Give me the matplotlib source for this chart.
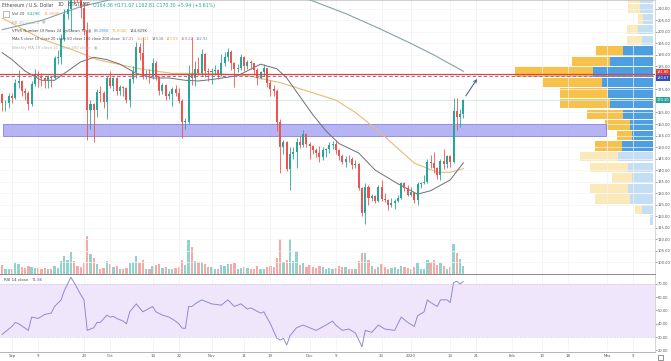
import numpy as np
import pandas as pd
import matplotlib
matplotlib.use("Agg")
import matplotlib.pyplot as plt
import matplotlib.dates as mdates
from matplotlib.patches import Rectangle

plt.rcParams['font.family'] = ['DejaVu Sans']

# ETH / USD, Bitstamp, 1D candles 2019-08-29 .. 2020-01-17
dates = pd.date_range("2019-08-29", "2020-01-17", freq="D")

opens = [173, 169, 169.3,
         172, 171.5, 178, 178.5, 174.5, 173.5, 168.5, 177.5, 181.5, 181, 180, 178.5, 180.5, 180, 188.5,
         189, 197, 208, 210, 221, 217, 214, 210.5, 201, 166, 168.5, 166, 174, 173.5, 169.5,
         180, 176.5, 180, 174.5, 176, 175.5, 170.5, 179.5, 182.5, 193.5, 191, 180.5, 181, 180.5, 186.5,
         180.5, 174.5, 177, 172, 173, 175, 173.5, 170, 161, 161, 181.5, 180, 184, 182, 190.5, 183,
         182.5, 183, 183.5, 181.5, 186.5, 189, 191.5, 186.5, 184, 184.5, 189, 185, 187, 186.5, 183.5,
         180, 182.5, 184.5, 178, 175, 174.5, 161, 150, 152, 140.5, 147, 148, 152, 151, 155.5,
         151.5, 150.5, 148.5, 147.5, 145.5, 148.5, 149.2, 151, 151.5, 148.5, 146, 143.5, 145, 144.6, 142,
         142.5, 132, 121.5, 132.5, 128, 128.5, 126.5, 132.5, 127.5, 127, 125, 125.5, 126.5, 128, 134.5, 132,
         129, 130.5, 127, 134, 134.5, 135, 143.5, 143, 141, 138, 144, 142.5, 146, 143.5, 165.5, 163, 164.36]
highs = [173.5, 170.5, 173.5,
         173.5, 179.5, 183.5, 179, 175.5, 174.5, 178.5, 184, 183, 182, 180.5, 181.5, 181, 189.5, 192,
         199, 210, 214, 223.5, 221.5, 219, 215, 213, 204.5, 170.5, 169, 175, 176.5, 174.5, 181,
         183, 180.5, 180.5, 177, 176.5, 176, 180, 185, 195.5, 195, 198, 183.5, 184, 188.5, 187.5,
         181, 178, 177.5, 174.5, 176, 177, 175.5, 171, 162.5, 185.5, 198, 187.5, 189, 192.5, 191, 184.5,
         184.5, 185.5, 184, 190.5, 191.5, 193, 192, 187, 186, 190.5, 189.5, 188, 188, 186.5, 184.5,
         183, 186, 184.5, 179, 177, 175, 162, 153, 152.5, 150, 150, 154, 155, 157.5, 156,
         152, 151, 149.5, 150.5, 150, 149.5, 152, 152.5, 153, 149, 147, 146, 146.5, 145.5, 144.5,
         143, 132.5, 134.5, 133.5, 129.5, 129, 133.5, 135.5, 130, 127.5, 128, 127.5, 129, 135, 135, 133.5,
         132.5, 130.5, 135, 135, 138, 145, 146.5, 148, 141.5, 145, 149, 146.5, 146.5, 171.5, 171.5, 166.5, 171.07]
lows = [165.5, 165.5, 167,
        169, 171, 175.5, 172, 170.3, 166.2, 168, 176.5, 176, 176.5, 175.5, 175.5, 176, 179.5, 186,
        186, 196, 205.5, 200.5, 212, 213, 206, 198.5, 153, 158, 152, 163, 169.5, 167, 162,
        175.5, 174.5, 172.5, 172.5, 172, 169, 167.5, 178, 180, 188, 179.5, 179.5, 178, 179.5, 179,
        172.5, 173, 170.5, 171, 168, 172, 169, 154, 158, 160, 177, 176.5, 181.5, 181, 180.5, 178.5,
        177.5, 181.5, 179.5, 181, 185, 187.5, 183.5, 176, 182.5, 183.5, 183, 184, 184, 181.5, 177,
        179.5, 181, 176, 172, 172, 157, 138.5, 147, 139.5, 131.5, 145, 141, 149.5, 150, 150,
        145, 147, 145.5, 143.5, 144.5, 145.5, 147.5, 149, 147, 144.5, 142.5, 141.5, 143.5, 140.5, 141,
        131.5, 120, 116.5, 125, 126.5, 125.5, 126, 126.5, 126, 122.5, 124, 123, 126, 127.5, 131, 128.5,
        128.5, 125.5, 125, 132, 134, 134.5, 141, 138.5, 136, 135.5, 140.5, 141, 141.5, 143, 157.5, 158.5, 162.81]
closes = [169, 169.3, 172,
          171.5, 178, 178.5, 174.5, 173.5, 168.5, 177.5, 181.5, 181, 180, 178.5, 180.5, 180, 188.5, 189,
          197, 208, 210, 221, 217, 214, 210.5, 201, 166, 168.5, 166, 174, 173.5, 169.5, 180,
          176.5, 180, 174.5, 176, 175.5, 170.5, 179.5, 182.5, 193.5, 191, 180.5, 181, 180.5, 186.5, 180.5,
          174.5, 177, 172, 173, 175, 173.5, 170, 161, 161, 181.5, 180, 184, 182, 190.5, 183, 182.5,
          183, 183.5, 181.5, 186.5, 189, 191.5, 186.5, 184, 184.5, 189, 185, 187, 186.5, 183.5, 180,
          182.5, 184.5, 178, 175, 174.5, 161, 150, 152, 140.5, 147, 148, 152, 151, 155.5, 151.5,
          150.5, 148.5, 147.5, 145.5, 148.5, 149.2, 151, 151.5, 148.5, 146, 143.5, 145, 144.6, 142, 142.5,
          132, 121.5, 132.5, 128, 128.5, 126.5, 132.5, 127.5, 127, 125, 125.5, 126.5, 128, 134.5, 132, 129,
          130.5, 127, 134, 134.5, 135, 143.5, 143, 141, 138, 144, 142.5, 146, 143.5, 165.5, 163, 164.36, 170.3]
volumes = [10, 6, 5,
           5, 12, 11, 8, 7, 9, 8, 7, 7, 6, 7, 6, 5, 9, 7, 14, 20, 16, 24, 14, 9, 8, 12, 42, 22, 18, 11, 6, 7, 14,
           11, 8, 9, 6, 5, 7, 12, 13, 20, 12, 16, 6, 5, 9, 10, 11, 7, 8, 5, 6, 7, 8, 16, 10, 38, 30, 14, 13, 13, 11, 8,
           8, 6, 6, 10, 9, 11, 11, 12, 6, 7, 8, 7, 6, 6, 9, 5, 5, 8, 9, 8, 18, 39, 13, 16, 39, 14, 26, 10, 12, 8,
           10, 8, 7, 9, 8, 6, 7, 5, 7, 9, 8, 8, 6, 6, 5, 14, 23, 23, 15, 9, 6, 8, 11, 8, 5, 7, 8, 5, 9, 8, 7,
           5, 8, 12, 6, 6, 15, 13, 16, 10, 12, 9, 6, 8, 33, 23, 17, 9.429]

# moving averages
ma20_dates = ["2019-08-29", "2019-09-01", "2019-09-05", "2019-09-10", "2019-09-14", "2019-09-18", "2019-09-22",
              "2019-09-26", "2019-09-30", "2019-10-04", "2019-10-09", "2019-10-14", "2019-10-19", "2019-10-24",
              "2019-10-28", "2019-11-02", "2019-11-09", "2019-11-16", "2019-11-21", "2019-11-24", "2019-11-28",
              "2019-12-02", "2019-12-06", "2019-12-10", "2019-12-16", "2019-12-21", "2019-12-28", "2020-01-03",
              "2020-01-07", "2020-01-13", "2020-01-17"]
ma20_vals = [191, 188, 183, 179, 179, 183, 187, 189, 188, 186, 182, 180, 180, 179, 178.7, 179.5, 181, 186,
             184, 180, 172, 164, 157, 151.5, 147.4, 140, 134, 129.5, 131, 135.7, 143.16]
ma50_dates = ["2019-08-29", "2019-09-10", "2019-09-20", "2019-09-27", "2019-10-10", "2019-10-20", "2019-11-01",
              "2019-11-12", "2019-11-22", "2019-12-01", "2019-12-09", "2019-12-15", "2019-12-22", "2020-01-02",
              "2020-01-09", "2020-01-13", "2020-01-17"]
ma50_vals = [206, 197, 192, 188, 184, 182, 182, 181, 178, 174, 170.4, 165, 157, 143, 139, 139, 140.59]
ma200_dates = ["2019-08-29", "2019-09-10", "2019-09-22", "2019-10-10", "2019-11-01", "2019-11-20", "2019-12-01",
               "2019-12-12", "2019-12-22", "2020-01-01", "2020-01-08", "2020-01-17"]
ma200_vals = [201, 205, 211, 217, 221, 219, 214, 208, 201.7, 195, 190, 182.92]

# RSI 14
rsi_dates = ["2019-08-29", "2019-09-01", "2019-09-02", "2019-09-03", "2019-09-06", "2019-09-07", "2019-09-09",
             "2019-09-11", "2019-09-13", "2019-09-14", "2019-09-16", "2019-09-17", "2019-09-19", "2019-09-20",
             "2019-09-22", "2019-09-23", "2019-09-24", "2019-09-25", "2019-09-26", "2019-09-27", "2019-09-28",
             "2019-09-30", "2019-10-01", "2019-10-02", "2019-10-03", "2019-10-05", "2019-10-06", "2019-10-07",
             "2019-10-09", "2019-10-10", "2019-10-11", "2019-10-14", "2019-10-15", "2019-10-17", "2019-10-19",
             "2019-10-21", "2019-10-22", "2019-10-23", "2019-10-24", "2019-10-25", "2019-10-26", "2019-10-27",
             "2019-10-29", "2019-11-01", "2019-11-04", "2019-11-06", "2019-11-08", "2019-11-10", "2019-11-12",
             "2019-11-13", "2019-11-16", "2019-11-17", "2019-11-19", "2019-11-21", "2019-11-22", "2019-11-23",
             "2019-11-24", "2019-11-25", "2019-11-27", "2019-11-28", "2019-11-29", "2019-11-30", "2019-12-03",
             "2019-12-06", "2019-12-08", "2019-12-09", "2019-12-11", "2019-12-13", "2019-12-15", "2019-12-16",
             "2019-12-17", "2019-12-18", "2019-12-20", "2019-12-22", "2019-12-24", "2019-12-27", "2019-12-29",
             "2019-12-30", "2019-12-31", "2020-01-02", "2020-01-03", "2020-01-05", "2020-01-06", "2020-01-07",
             "2020-01-09", "2020-01-10", "2020-01-12", "2020-01-13", "2020-01-14", "2020-01-15", "2020-01-16",
             "2020-01-17"]
rsi_vals = [32, 38, 41, 40, 35, 45, 44, 47, 48, 53, 58, 65, 75, 71, 62, 58, 35, 36, 37, 41, 41, 46.5, 45,
            45.5, 44, 42, 40, 49, 55, 52, 49, 53, 49, 46.5, 45, 42, 40, 36.7, 36.5, 53, 53, 55, 58, 55, 54,
            58, 53, 55, 51, 52, 48, 49, 40, 29, 27.7, 29, 24, 31, 37, 38, 39, 38, 35, 39, 42, 39, 35, 36, 33,
            28, 22.7, 35, 33.5, 39, 36, 35, 45, 43, 41, 38, 46, 49, 58, 56, 53, 58, 58, 56, 71, 72, 70, 71.86]

# volume profile (VPVR, 24 rows) - bar lengths per row, bottom row first
vp_row_low = 115.9
vp_row_step = 4.6
vp_up = [3, 11, 23, 25, 21, 25, 35, 31, 21, 23, 30, 43, 45, 51, 60, 43, 30, 11, 15, 10, 13, 13, 10, 8]
vp_down = [0, 7, 35, 38, 20, 38, 38, 27, 15, 25, 36, 50, 48, 59, 78, 38, 27, 15, 11, 5, 12, 12, 10, 8]
vp_value_area = (7, 16)

# drawn levels / zone / arrow
level_red = 181.80
level_dash = 180.67
last_price = 170.30
zone_low, zone_high = 154.8, 160.0
zone_start, zone_end = "2019-08-29 06:00", "2020-02-29 16:00"
arrow_from = ("2020-01-17 18:00", 172.2)
arrow_to = ("2020-01-21 05:00", 179.6)

price_ticks = [p for p in range(100, 215, 5) if p not in (170, 180)]
rsi_ticks = [70, 60, 50, 40, 30, 20]
time_dates = ["2019-09-01", "2019-09-09", "2019-09-23", "2019-10-01", "2019-10-14", "2019-10-22", "2019-11-01",
              "2019-11-11", "2019-11-19", "2019-12-01", "2019-12-09", "2019-12-23", "2020-01-01", "2020-01-13",
              "2020-01-21", "2020-02-01", "2020-02-10", "2020-02-18", "2020-03-01", "2020-03-09"]
time_labels = ["Sep", "9", "23", "Oct", "14", "22", "Nov", "11", "19", "Dec", "9", "23", "2020", "13", "21",
               "Feb", "10", "18", "Mar", "9"]

assert len(opens) == len(highs) == len(lows) == len(closes) == len(volumes) == len(dates)
assert len(rsi_dates) == len(rsi_vals)

UP, DOWN = '#26a69a', '#ef5350'
TXT = '#4a4a4a'
FAINT = '#b4b4b4'
W, H = 671, 361
PANE_R, MAIN_B, RSI_B = 655, 274, 352


def px_rect(x0, y0, x1, y1):
    return [x0 / W, 1 - y1 / H, (x1 - x0) / W, (y1 - y0) / H]


def dnum(s):
    return mdates.date2num(pd.to_datetime(s))


fig = plt.figure(figsize=(W / 100, H / 100), dpi=100)
ax_vp = fig.add_axes(px_rect(0, 0, PANE_R, MAIN_B))
ax_vol = fig.add_axes(px_rect(0, 0, PANE_R, MAIN_B))
ax = fig.add_axes(px_rect(0, 0, PANE_R, MAIN_B))
ax_rsi = fig.add_axes(px_rect(0, MAIN_B, PANE_R, RSI_B))

t0 = dnum("2019-09-01")
xlim = (t0 - 3.67, t0 + 196.6)
ylim = (94.8, 213.9)

# volume profile
ax_vp.set_xlim(PANE_R, 0)
ax_vp.set_ylim(*ylim)
ax_vp.axis('off')
for k in range(len(vp_up)):
    inside = vp_value_area[0] <= k <= vp_value_area[1]
    c_up = '#4d9fe2' if inside else '#c4dff4'
    c_dn = '#f6c24c' if inside else '#fce9b9'
    yb = vp_row_low + vp_row_step * k + 0.25
    ax_vp.barh(yb, vp_up[k], left=2, height=vp_row_step - 0.5, align='edge', color=c_up, lw=0)
    ax_vp.barh(yb, vp_down[k], left=2 + vp_up[k], height=vp_row_step - 0.5, align='edge', color=c_dn, lw=0)

x = mdates.date2num(dates)
o, h, l, c = map(np.array, (opens, highs, lows, closes))
up = c >= o

# volume
ax_vol.set_facecolor('none')
ax_vol.bar(x, volumes, width=0.7, color=np.where(up, '#92d2cc', '#f7a9a7'), lw=0)
ax_vol.set_xlim(*xlim)
ax_vol.set_ylim(0, 304)
ax_vol.axis('off')

# price pane
ax.set_facecolor('none')
ax.set_xlim(*xlim)
ax.set_ylim(*ylim)
for td in time_dates:
    ax.axvline(dnum(td), color='#f1f1f1', lw=0.5, zorder=0)
    ax_rsi.axvline(dnum(td), color='#f1f1f1', lw=0.5, zorder=0)
for p in price_ticks:
    ax.axhline(p, color='#f4f4f4', lw=0.5, zorder=0)

ax.add_patch(Rectangle((dnum(zone_start), zone_low), dnum(zone_end) - dnum(zone_start), zone_high - zone_low,
                       fc='#a9a7f4', ec='#7a77d8', lw=0.6, alpha=0.85, zorder=2))

ax.plot(dnum(ma200_dates), ma200_vals, color='#86a2a6', lw=0.8, zorder=3)
ax.plot(dnum(ma50_dates), ma50_vals, color='#e9bb76', lw=0.8, zorder=3)
ax.plot(dnum(ma20_dates), ma20_vals, color='#6e6e78', lw=0.7, zorder=3)

col = np.where(up, UP, DOWN)
ax.vlines(x, l, h, colors=col, lw=0.6, zorder=4)
ax.bar(x, np.maximum(np.abs(c - o), 0.3), bottom=np.minimum(o, c), width=0.62, color=col, lw=0, zorder=5)

ax.axhline(last_price, color='#cde8e5', lw=0.6, zorder=1)
ax.axhline(level_red, color='#e3423f', lw=0.9, zorder=6)
ax.axhline(level_dash, color='#8f7aa6', lw=0.8, ls=(0, (3, 2)), zorder=6)

ax.annotate('', xy=(dnum(arrow_to[0]), arrow_to[1]), xytext=(dnum(arrow_from[0]), arrow_from[1]),
            arrowprops=dict(arrowstyle='->', color='#4f6d8f', lw=0.8, shrinkA=0, shrinkB=0,
                            mutation_scale=5), zorder=7)

ax.yaxis.tick_right()
ax.set_yticks(price_ticks)
ax.set_yticklabels(['%.2f' % p for p in price_ticks])
ax.tick_params(axis='y', labelsize=2.6, colors='#555555', length=1.5, width=0.4, pad=0.6)
ax.set_xticks([])
for s in ('left', 'bottom'):
    ax.spines[s].set_visible(False)
ax.spines['top'].set_color('#c8c8c8')
ax.spines['right'].set_color('#d0d0d0')
ax.spines['top'].set_linewidth(0.6)
ax.spines['right'].set_linewidth(0.6)


def axis_tag(axis, y, text, bg, dy=0):
    axis.annotate(text, xy=(1, y), xycoords=('axes fraction', 'data'), xytext=(1.3, dy),
                  textcoords='offset points', fontsize=2.6, color='white', va='center', ha='left',
                  bbox=dict(boxstyle='square,pad=0.25', fc=bg, ec='none'), annotation_clip=False, zorder=10)


axis_tag(ax, level_red, '%.2f' % level_red, '#e53935', dy=1.2)
axis_tag(ax, level_dash, '%.2f' % level_dash, '#2f4dbd', dy=-1.2)
axis_tag(ax, last_price, '%.2f' % last_price, '#26a69a')

# RSI pane
ax_rsi.set_xlim(*xlim)
ax_rsi.set_ylim(18.7, 77.5)
ax_rsi.axhspan(30, 70, color='#efe6fb', lw=0, zorder=0)
ax_rsi.axhline(70, color='#c9c2d8', lw=0.4, ls=(0, (3, 2)))
ax_rsi.axhline(30, color='#c9c2d8', lw=0.4, ls=(0, (3, 2)))
ax_rsi.plot(dnum(rsi_dates), rsi_vals, color='#8f8ad0', lw=0.7, zorder=3)
ax_rsi.yaxis.tick_right()
ax_rsi.set_yticks(rsi_ticks)
ax_rsi.set_yticklabels(['%.2f' % v for v in rsi_ticks])
ax_rsi.tick_params(axis='y', labelsize=2.6, colors='#555555', length=1.5, width=0.4, pad=0.6)
ax_rsi.set_xticks(dnum(time_dates))
ax_rsi.set_xticklabels(time_labels)
ax_rsi.tick_params(axis='x', labelsize=2.8, colors='#555555', length=0, pad=1.6)
ax_rsi.spines['left'].set_visible(False)
ax_rsi.spines['top'].set_color('#8a8a8a')
ax_rsi.spines['top'].set_linewidth(0.7)
ax_rsi.spines['bottom'].set_color('#a8a8a8')
ax_rsi.spines['bottom'].set_linewidth(0.6)
ax_rsi.spines['right'].set_color('#d0d0d0')
ax_rsi.spines['right'].set_linewidth(0.6)


# legend rows (TradingView header): pieces placed one after another
def legend_row(host, px, py, pieces, size=3.0, gap=2.0):
    prev = host.text(px / W, 1 - py / H, pieces[0][0], fontsize=size, color=pieces[0][1],
                     va='center', ha='left', transform=fig.transFigure, zorder=20)
    for s, cc in pieces[1:]:
        prev = host.annotate(s, xy=(1, 0.5), xycoords=prev, xytext=(gap, 0), textcoords='offset points',
                             fontsize=size, color=cc, va='center', ha='left', annotation_clip=False,
                             zorder=20)


legend_row(ax, 2, 5, [("Ethereum / U.S. Dollar", TXT), ("1D", TXT), ("BITSTAMP", TXT),
                      ("O164.36 H171.07 L162.81 C170.30 +5.94 (+3.61%)", UP)], size=3.3, gap=2.6)
fig.add_artist(Rectangle((3 / W, 1 - 17 / H), 6 / W, 6 / H, transform=fig.transFigure,
                         fill=False, ec='#888888', lw=0.4))
legend_row(ax, 12, 14, [("Vol 20", TXT), ("9.429K", UP), ("11.959K", '#f0a35a')], size=2.9)
legend_row(ax, 12, 22.5, [("BB 20 close 2", FAINT), ("\u25c9", FAINT)], size=2.9)
legend_row(ax, 12, 31, [("VPVR Number Of Rows 24 Up/Down 70", TXT), ("\u25c9", '#888888'),
                        ("69.285K", '#3d8fd6'), ("75.604K", '#e8a93a'), ("144.829K", TXT)], size=2.7, gap=1.6)
legend_row(ax, 12, 39.5, [("MAs 5 close 10 close 20 close 50 close 100 close 200 close", TXT),
                          ("167.21", '#8e6cc9'), ("152.22", '#e8a93a'), ("143.16", '#6e6e78'),
                          ("140.59", '#e9a54b'), ("159.22", '#9b6bc8'), ("182.92", '#5d8fb0')], size=2.6, gap=1.6)
legend_row(ax, 12, 48, [("Weekly MA 19 close 21 close 200 close", FAINT), ("\u25c9", FAINT)], size=2.9)
legend_row(ax_rsi, 4, 280, [("RSI 14 close", TXT), ("71.86", '#7e57c2')], size=2.9)

fig.add_artist(Rectangle((658 / W, 1 - 360 / H), 5 / W, 5 / H, transform=fig.transFigure,
                         fill=False, ec='#666666', lw=0.5))

fig.savefig("out.png", dpi=100, facecolor='white')
